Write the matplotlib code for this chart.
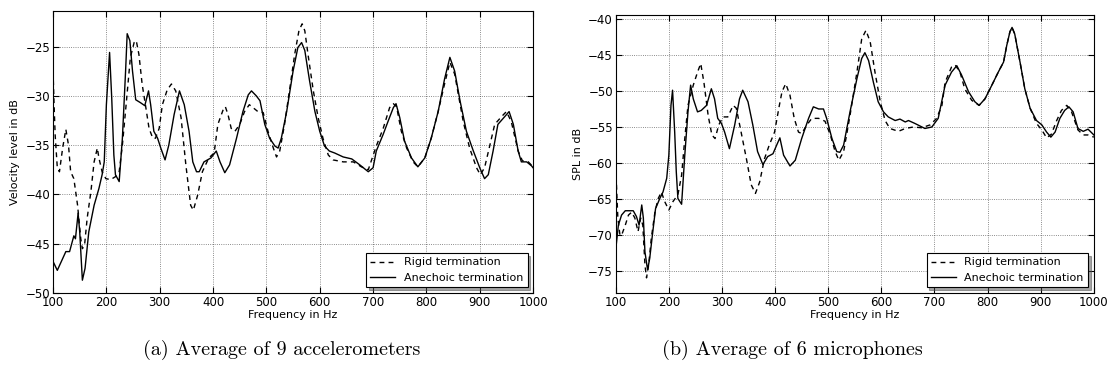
import matplotlib
matplotlib.use('Agg')
import matplotlib.pyplot as plt

plt.rcParams['font.family'] = 'DejaVu Sans'
plt.rcParams['font.size'] = 8
plt.rcParams['xtick.direction'] = 'in'
plt.rcParams['ytick.direction'] = 'in'
plt.rcParams['xtick.top'] = True
plt.rcParams['ytick.right'] = True
plt.rcParams['xtick.major.size'] = 4
plt.rcParams['ytick.major.size'] = 4

# (a) average of 9 accelerometers, velocity level in dB
acc_rigid_f = [100, 102, 104, 108, 112, 118, 124, 129, 133, 139, 146, 152, 155, 159, 164, 171, 177, 183,
               186, 192, 199, 208, 217, 224, 230, 237, 245, 252, 256, 261, 267, 274, 280, 287, 292, 299,
               305, 314, 322, 330, 340, 349, 358, 363, 371, 380, 392, 402, 409, 419, 423, 428, 434, 441,
               450, 459, 468, 475, 484, 494, 503, 513, 519, 525, 534, 544, 553, 561, 567, 572, 578, 588,
               597, 606, 616, 625, 644, 663, 678, 691, 706, 719, 731, 738, 744, 753, 763, 775, 784, 797,
               809, 822, 834, 844, 853, 869, 881, 894, 901, 909, 919, 928, 941, 950, 959, 972, 980, 991,
               1000]
acc_rigid_db = [-27.5, -31.0, -34.0, -37.3, -37.7, -35.3, -33.4, -35.0, -37.7, -38.4, -41.1, -44.5, -45.5,
                -45.2, -42.4, -39.7, -36.7, -35.3, -36.3, -37.7, -38.4, -38.5, -38.2, -37.7, -35.0, -30.9,
                -26.1, -24.6, -24.4, -25.8, -28.8, -31.2, -33.3, -34.3, -34.3, -33.3, -30.9, -29.4, -28.8,
                -29.5, -32.2, -37.0, -41.1, -41.6, -40.1, -37.7, -36.3, -35.8, -32.9, -31.4, -31.1, -31.9,
                -33.3, -33.6, -32.9, -31.6, -30.9, -31.2, -31.6, -31.7, -33.6, -35.3, -36.2, -35.6, -32.9,
                -29.2, -25.8, -23.4, -22.7, -23.4, -25.8, -29.5, -32.2, -34.3, -36.0, -36.5, -36.7, -36.7,
                -37.2, -37.5, -35.1, -33.3, -31.2, -30.8, -31.1, -33.6, -35.3, -36.7, -37.2, -36.3, -34.3,
                -31.6, -28.8, -26.6, -27.8, -32.6, -35.3, -37.3, -38.0, -37.3, -35.0, -32.9, -32.1, -31.6,
                -32.6, -35.6, -36.6, -36.7, -37.2]

acc_anech_f = [100, 108, 124, 131, 139, 142, 147, 150, 155, 160, 167, 177, 186, 192, 196, 200, 206, 210,
               214, 217, 224, 230, 236, 239, 244, 249, 255, 264, 272, 279, 283, 289, 296, 302, 310, 317,
               327, 337, 346, 355, 362, 369, 374, 383, 396, 406, 413, 422, 431, 444, 456, 466, 472, 481,
               488, 497, 506, 516, 522, 528, 538, 550, 559, 566, 572, 581, 591, 600, 609, 618, 628, 644,
               660, 675, 691, 700, 706, 719, 728, 738, 743, 750, 759, 772, 784, 797, 809, 822, 834, 844,
               853, 863, 875, 888, 900, 909, 916, 925, 934, 947, 955, 963, 972, 978, 988, 997, 1000]
acc_anech_db = [-46.8, -47.7, -45.8, -45.8, -44.2, -44.5, -41.9, -43.8, -48.7, -47.5, -43.8, -41.1, -39.4,
                -38.0, -36.7, -30.9, -25.6, -30.2, -36.0, -38.0, -38.7, -34.3, -27.5, -23.7, -24.4, -27.5,
                -30.4, -30.7, -31.0, -29.5, -30.9, -33.6, -34.3, -35.3, -36.5, -35.0, -31.9, -29.5, -30.9,
                -33.6, -36.7, -37.7, -37.7, -36.7, -36.3, -35.6, -36.7, -37.8, -37.0, -34.3, -31.6, -29.9,
                -29.5, -30.0, -30.5, -32.9, -34.3, -35.1, -35.3, -34.3, -31.6, -27.5, -25.1, -24.6, -25.4,
                -28.5, -31.6, -33.6, -35.1, -35.6, -35.8, -36.2, -36.4, -37.0, -37.7, -37.3, -35.6, -33.9,
                -32.6, -31.2, -30.8, -32.2, -34.6, -36.3, -37.2, -36.3, -34.3, -31.6, -28.3, -26.1, -27.5,
                -30.5, -33.6, -35.6, -37.3, -38.4, -38.0, -35.6, -32.9, -32.1, -31.6, -32.9, -35.6, -36.7,
                -36.7, -37.1, -37.3]

# (b) average of 6 microphones, SPL in dB
mic_rigid_f = [100, 104, 108, 111, 118, 124, 130, 136, 142, 147, 151, 155, 158, 162, 167, 174, 180, 186,
               192, 200, 208, 217, 224, 230, 236, 246, 254, 260, 266, 274, 281, 287, 294, 302, 311, 321,
               327, 336, 346, 355, 363, 371, 380, 389, 399, 408, 413, 420, 428, 436, 444, 450, 460, 469,
               482, 494, 504, 513, 520, 529, 541, 554, 563, 571, 579, 588, 598, 607, 616, 632, 645, 660,
               676, 692, 704, 714, 720, 732, 739, 748, 757, 770, 784, 795, 808, 820, 830, 836, 842, 846,
               851, 861, 870, 880, 892, 902, 911, 920, 930, 939, 949, 958, 970, 980, 989, 1000]
mic_rigid_db = [-60.5, -67.6, -70.0, -70.0, -68.6, -67.2, -66.8, -67.6, -69.5, -67.6, -68.6, -74.1, -75.9,
                -74.1, -70.4, -66.7, -64.9, -64.0, -65.3, -66.5, -65.3, -64.4, -61.7, -56.6, -52.0, -49.2,
                -47.4, -46.2, -48.8, -53.4, -56.1, -56.6, -54.7, -53.6, -53.6, -52.0, -52.4, -55.7, -59.4,
                -63.0, -64.2, -62.6, -59.4, -57.5, -55.7, -52.0, -50.1, -49.0, -50.6, -53.8, -55.7, -55.9,
                -54.7, -53.8, -53.8, -54.2, -56.1, -58.4, -59.6, -58.4, -53.4, -47.4, -42.8, -41.6, -43.2,
                -47.4, -51.5, -54.1, -55.2, -55.6, -55.2, -55.0, -55.1, -54.7, -53.8, -52.0, -48.8, -46.7,
                -46.4, -47.4, -49.7, -51.3, -52.0, -51.1, -49.2, -47.4, -46.0, -43.7, -41.8, -41.2, -42.1,
                -46.0, -49.7, -52.4, -54.5, -55.4, -56.5, -56.0, -54.1, -52.7, -52.0, -52.9, -55.4, -56.1,
                -56.1, -56.4]

mic_anech_f = [100, 105, 111, 118, 127, 133, 139, 144, 149, 152, 155, 160, 164, 169, 175, 183, 189, 196,
               200, 204, 207, 211, 214, 217, 224, 230, 236, 241, 246, 254, 261, 271, 280, 286, 292, 299,
               305, 314, 324, 333, 339, 349, 358, 367, 377, 386, 396, 403, 409, 416, 428, 438, 450, 463,
               472, 482, 491, 497, 507, 516, 522, 529, 541, 554, 563, 569, 576, 585, 594, 604, 613, 626,
               635, 645, 651, 663, 682, 695, 707, 720, 732, 742, 751, 764, 776, 784, 795, 808, 820, 830,
               836, 842, 846, 851, 861, 870, 880, 892, 902, 911, 919, 927, 936, 945, 953, 961, 970, 980,
               989, 1000]
mic_anech_db = [-72.0, -68.6, -67.2, -66.6, -66.6, -66.6, -67.4, -68.6, -65.8, -67.6, -72.3, -74.8, -73.2,
                -70.0, -66.3, -64.9, -64.0, -62.1, -58.9, -52.0, -49.9, -55.7, -61.2, -64.9, -65.7, -58.9,
                -52.9, -49.2, -51.1, -52.9, -52.7, -52.0, -49.7, -51.1, -53.8, -54.5, -55.7, -58.0, -54.7,
                -51.1, -49.9, -51.5, -54.7, -58.4, -60.2, -59.1, -58.7, -57.5, -56.5, -58.9, -60.4, -59.6,
                -56.6, -53.8, -52.2, -52.5, -52.5, -53.8, -56.6, -58.4, -58.5, -57.5, -52.9, -48.3, -45.5,
                -44.7, -45.8, -48.8, -51.5, -52.9, -53.6, -54.1, -53.9, -54.3, -54.1, -54.5, -55.2, -55.0,
                -53.8, -49.2, -47.4, -46.5, -47.8, -50.1, -51.5, -52.0, -51.1, -49.2, -47.4, -46.0, -43.7,
                -41.8, -41.2, -42.1, -46.0, -49.7, -52.4, -54.1, -54.7, -55.7, -56.4, -55.7, -53.8, -52.7,
                -52.2, -52.9, -55.2, -55.6, -55.3, -56.1]

xticks = list(range(100, 1001, 100))
acc_yticks = list(range(-50, -24, 5))
mic_yticks = list(range(-75, -39, 5))

fig = plt.figure(figsize=(11.12, 3.76), dpi=100)
ax1 = fig.add_axes([0.0477, 0.2207, 0.4317, 0.750])
ax2 = fig.add_axes([0.5537, 0.2207, 0.4300, 0.739])

panels = [
    (ax1, acc_rigid_f, acc_rigid_db, acc_anech_f, acc_anech_db, acc_yticks, (-50, -21.4), 'Velocity level in dB'),
    (ax2, mic_rigid_f, mic_rigid_db, mic_anech_f, mic_anech_db, mic_yticks, (-78, -39.5), 'SPL in dB'),
]

for ax, rf, rdb, af, adb, yt, ylim, ylabel in panels:
    ax.plot(rf, rdb, color='black', lw=1.0, linestyle='--', dashes=(3.5, 3), label='Rigid termination')
    ax.plot(af, adb, color='black', lw=1.0, label='Anechoic termination')
    ax.set_xlim(100, 1000)
    ax.set_ylim(*ylim)
    ax.set_xticks(xticks)
    ax.set_yticks(yt)
    ax.grid(True, color='black', linestyle=':', linewidth=0.6, alpha=0.6)
    ax.set_xlabel('Frequency in Hz', labelpad=1)
    ax.set_ylabel(ylabel, labelpad=4)
    ax.tick_params(labelsize=8.5, pad=2)
    leg = ax.legend(loc='lower right', fancybox=False, shadow=True, framealpha=1,
                    edgecolor='black', fontsize=8, handlelength=2.2, borderaxespad=0.5)
    leg.get_frame().set_linewidth(0.8)

fig.text(282 / 1112, 1 - 350 / 376, '(a) Average of 9 accelerometers', family='cmr10',
         fontsize=14.5, ha='center', va='center')
fig.text(792 / 1112, 1 - 350 / 376, '(b) Average of 6 microphones', family='cmr10',
         fontsize=14.5, ha='center', va='center')

fig.savefig('out.png', dpi=100, facecolor='white')
